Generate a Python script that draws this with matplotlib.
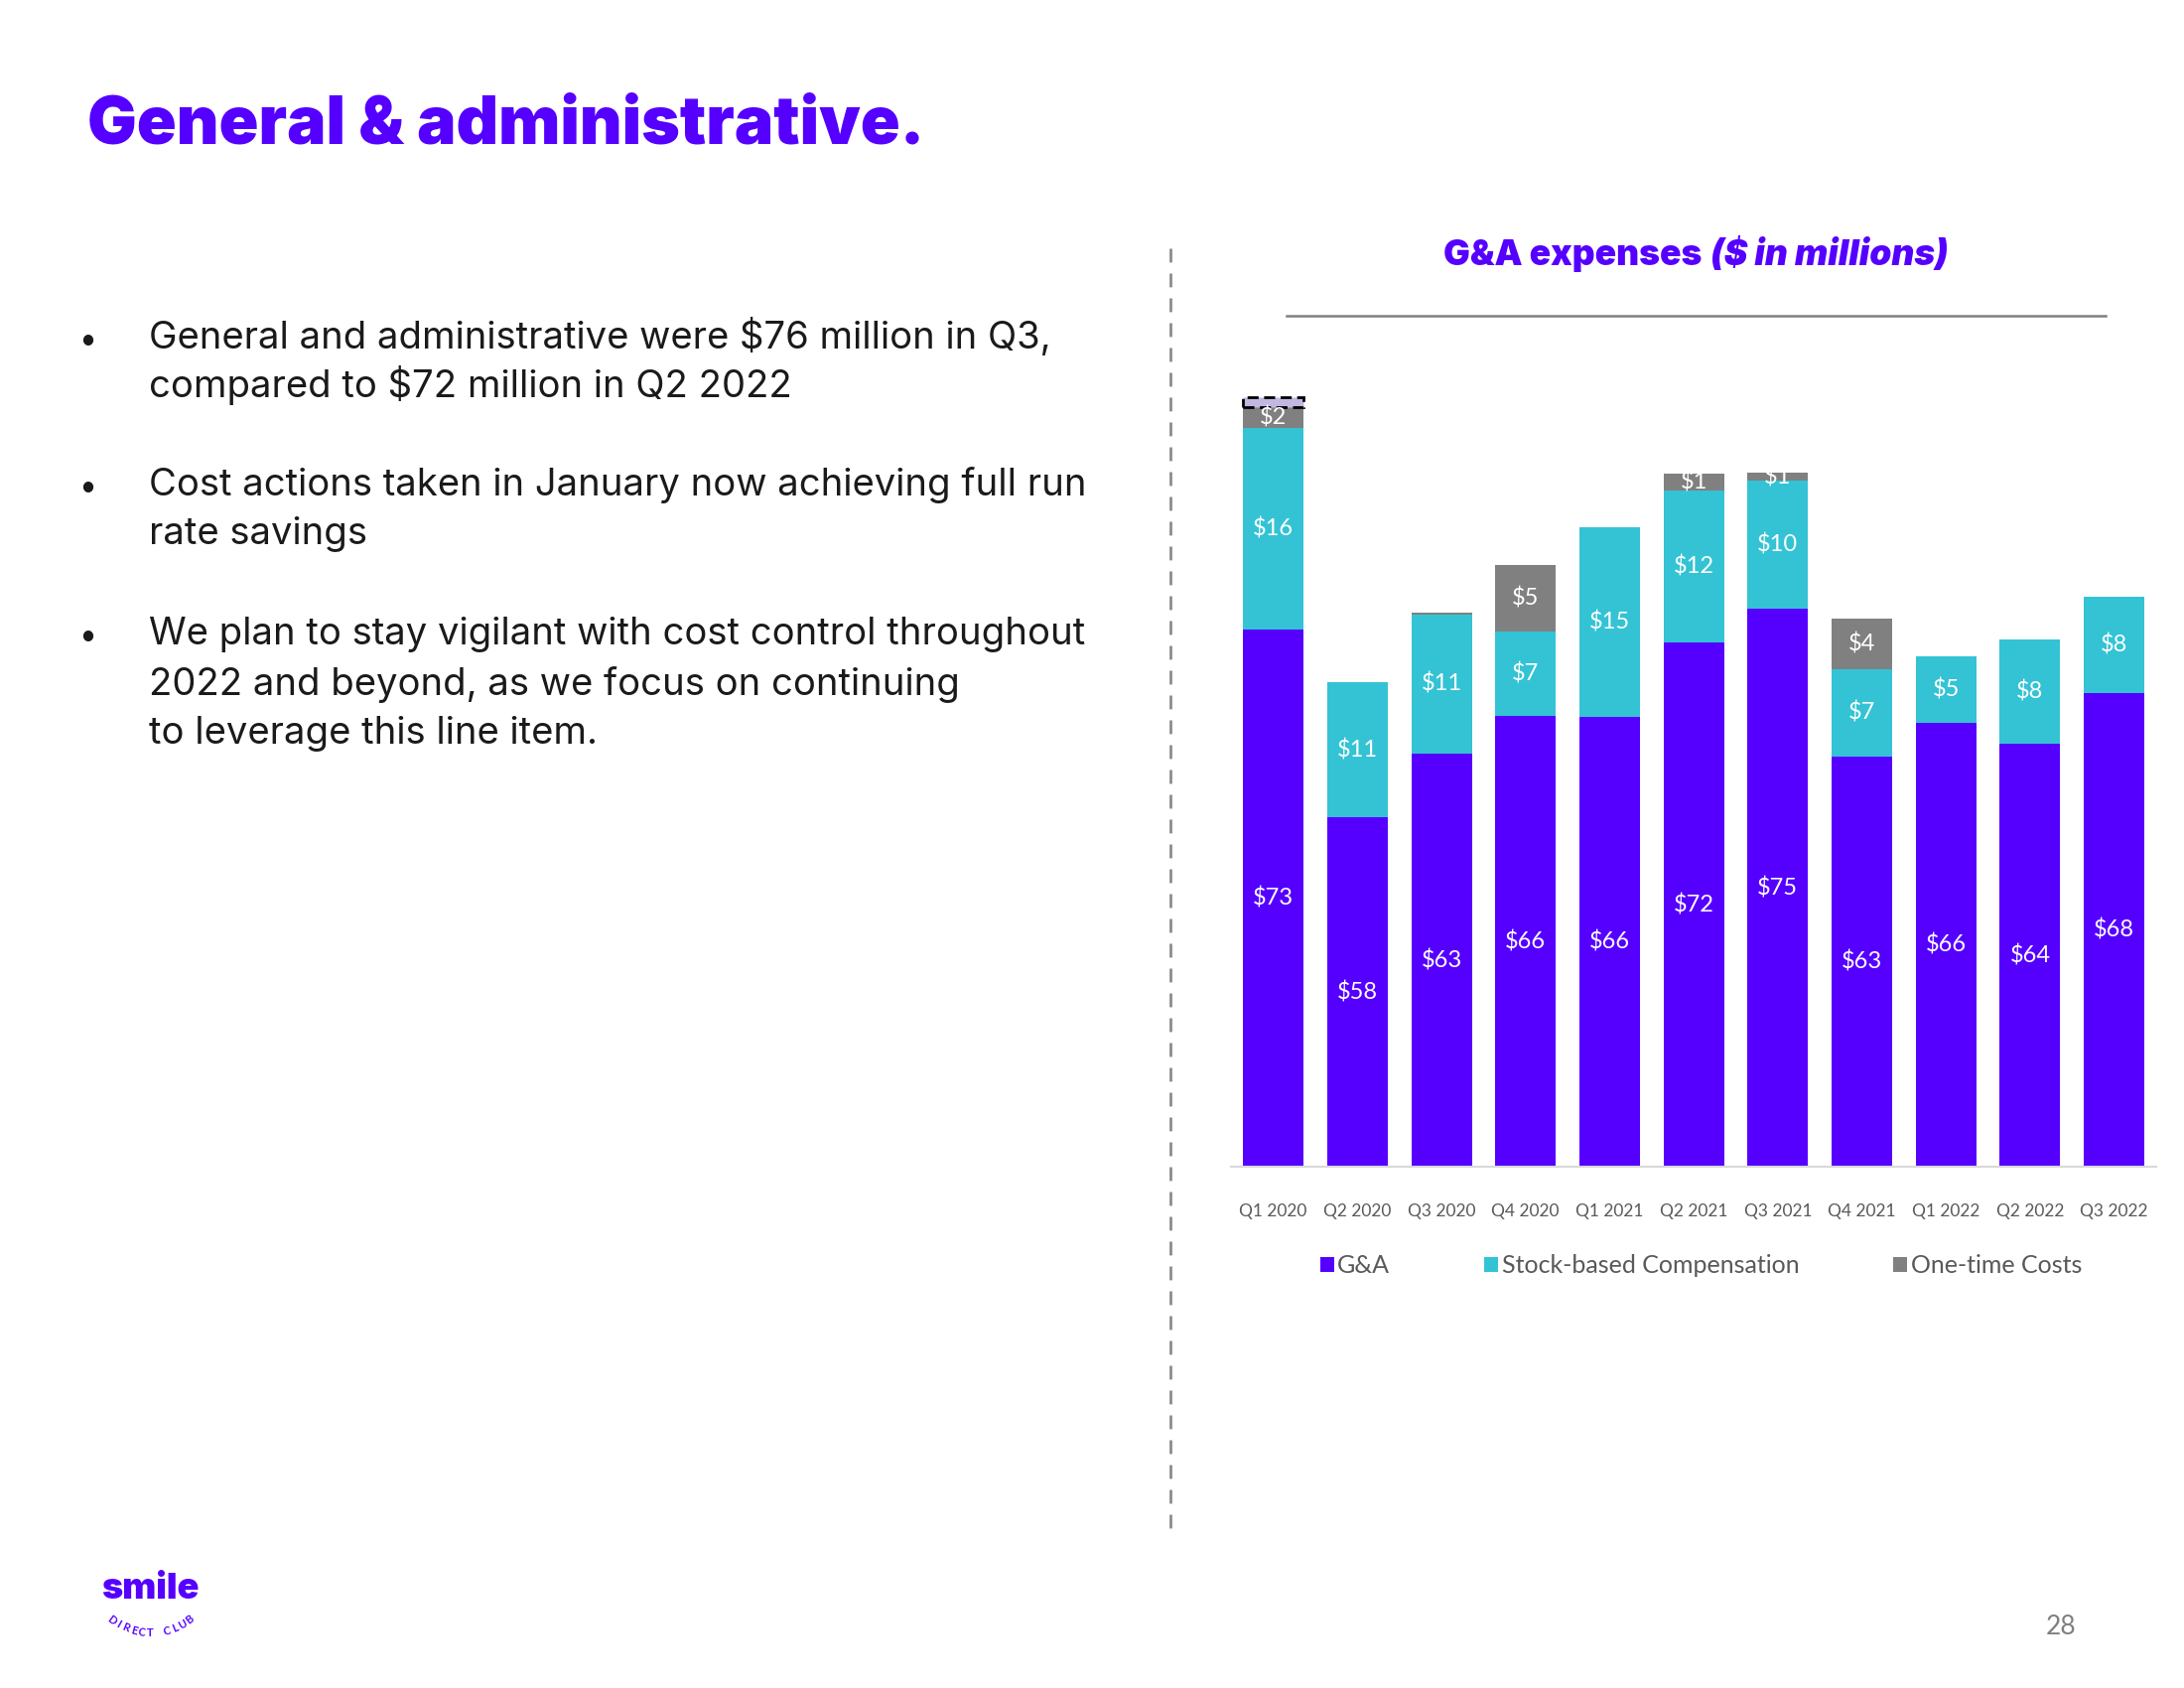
import numpy as np
import matplotlib
matplotlib.use("Agg")
import matplotlib.pyplot as plt
from matplotlib.lines import Line2D

# ---------------- data ----------------
quarters = ["Q1 2020", "Q2 2020", "Q3 2020", "Q4 2020", "Q1 2021", "Q2 2021",
            "Q3 2021", "Q4 2021", "Q1 2022", "Q2 2022", "Q3 2022"]
tick_labels = ["Q1 2020", "Q2 2020", "Q3 2020", "Q4 2020", "Q1 2021", "Q2 2021",
               "Q3 2021", "Q4 2021", "Q1 2022", "Q2 2022", "Q3 2022"]
ga = [73.26, 57.96, 63.17, 66.23, 66.12, 72.24, 74.96, 62.95, 65.67, 63.97, 68.05]
sbc = [16.45, 11.0, 11.3, 6.9, 15.45, 12.3, 10.45, 7.1, 5.45, 8.45, 7.9]
onetime = [1.7, 0.0, 0.15, 5.4, 0.0, 1.45, 0.6, 4.1, 0.0, 0.0, 0.0]
other = [0.8, 0, 0, 0, 0, 0, 0, 0, 0, 0, 0]
series_names = ["G&A", "Stock-based Compensation", "One-time Costs"]

bullets = [
    ["General and administrative were $76 million in Q3,",
     "compared to $72 million in Q2 2022"],
    ["Cost actions taken in January now achieving full run",
     "rate savings"],
    ["We plan to stay vigilant with cost control throughout",
     "2022 and beyond, as we focus on continuing",
     "to leverage this line item."],
]

# ---------------- style ----------------
PURPLE = "#5500FF"
TEAL = "#33C3D4"
GREY = "#808080"
LAV = "#C3B6E0"
TXT = "#1a1a1a"
GTXT = "#595959"
FONT = ["Lato", "DejaVu Sans"]
HEAD = ["Inter", "Lato", "DejaVu Sans"]
BODY = ["Inter", "Open Sans", "DejaVu Sans"]
plt.rcParams["font.family"] = FONT

W, H = 2200, 1700
fig = plt.figure(figsize=(22, 17), dpi=100)
fig.patch.set_facecolor("white")

S = 2200 / 1568.0  # small-to-full scale


def fx(x):
    return x / 1568.0


def fy(y):
    return 1 - y / 1212.0


# title
fig.text(fx(63), fy(103), "General & administrative.", color=PURPLE,
         fontsize=47.5, fontweight="black", ha="left", va="baseline",
         parse_math=False, family=HEAD)

# bullets
line_base = [[250, 285], [356, 391], [463, 499, 534]]
for lines, ys in zip(bullets, line_base):
    fig.text(fx(63), fy(ys[0]), "\u2022", color=TXT, fontsize=20,
             ha="center", va="baseline")
    for ln, yy in zip(lines, ys):
        fig.text(fx(107), fy(yy), ln, color=TXT, fontsize=27.5,
                 ha="left", va="baseline", parse_math=False, family=BODY)

# dashed separator
fig.add_artist(Line2D([fx(840), fx(840)], [fy(178), fy(1103)],
                      transform=fig.transFigure, color="#8c8c8c", lw=2,
                      linestyle=(0, (5, 4))))

# chart title
fig.text(fx(1222), fy(190), "G&A expenses", color=PURPLE, fontsize=25.5,
         fontweight="black", ha="right", va="baseline", parse_math=False,
         family=HEAD)
fig.text(fx(1228), fy(190), "($ in millions)", color=PURPLE, fontsize=25.5,
         fontweight="black", fontstyle="italic", ha="left", va="baseline",
         parse_math=False, family=HEAD)
fig.add_artist(Line2D([fx(924), fx(1512)], [fy(227), fy(227)],
                      transform=fig.transFigure, color="#7f7f7f", lw=1.8))

# ---------------- chart ----------------
ax = fig.add_axes([fx(884), fy(838), fx(1548) - fx(884), fy(250) - fy(838)])
ymin = 29.5
x = np.arange(len(quarters))
bw = 0.72
ga_a = np.array(ga)
sbc_a = np.array(sbc)
ot_a = np.array(onetime)
oth_a = np.array(other)

b1 = ax.bar(x, ga_a, bw, color=PURPLE, label=series_names[0], zorder=2)
b2 = ax.bar(x, sbc_a, bw, bottom=ga_a, color=TEAL, label=series_names[1], zorder=2)
b3 = ax.bar(x, ot_a, bw, bottom=ga_a + sbc_a, color=GREY, label=series_names[2], zorder=2)
for i, v in enumerate(oth_a):
    if v > 0:
        ax.bar(x[i], v, bw, bottom=ga_a[i] + sbc_a[i] + ot_a[i], color=LAV,
               edgecolor="black", linestyle=(0, (4, 2)), linewidth=2, zorder=3)

lab_fs = 17
for i in range(len(x)):
    ax.text(x[i], (ymin + ga_a[i]) / 2, f"${round(ga_a[i])}", color="white",
            ha="center", va="center", fontsize=lab_fs, parse_math=False, zorder=4)
    if sbc_a[i] >= 0.5:
        ax.text(x[i], ga_a[i] + sbc_a[i] / 2, f"${round(sbc_a[i])}", color="white",
                ha="center", va="center", fontsize=lab_fs, parse_math=False, zorder=4)
    if ot_a[i] >= 0.5:
        ax.text(x[i], ga_a[i] + sbc_a[i] + ot_a[i] / 2, f"${round(ot_a[i])}",
                color="white", ha="center", va="center", fontsize=lab_fs,
                parse_math=False, zorder=4)

ax.set_xlim(-0.5, len(x) - 0.5)
ax.set_ylim(ymin, ymin + 588 / 8.82)
for s in ["top", "right", "left"]:
    ax.spines[s].set_visible(False)
ax.spines["bottom"].set_color("#D9D9D9")
ax.spines["bottom"].set_linewidth(1.5)
ax.set_yticks([])
ax.set_xticks(x)
ax.set_xticklabels(tick_labels, fontsize=12.5, color=GTXT)
ax.tick_params(axis="x", length=0, pad=26)
ax.set_facecolor("none")

leg = ax.legend(handles=[b1, b2, b3], loc="center", ncol=3,
                bbox_to_anchor=(0.5 + 0.008, (fy(909) - fy(838)) / (fy(250) - fy(838))),
                frameon=False, fontsize=18, handlelength=0.55, handleheight=0.55,
                handletextpad=0.15, columnspacing=3.8, labelcolor=GTXT)

# page number
fig.text(fx(1480), fy(1168), "28", color="#7f7f7f", fontsize=19,
         ha="center", va="center")

# logo
fig.text(fx(108), fy(1141), "smile", color=PURPLE, fontsize=26,
         fontweight="black", ha="center", va="center", family=HEAD)
cx, cy = 108 * S, H - 1125.5 * S
r = 46.5 * S
word = "DIRECT CLUB"
angs = np.linspace(-127, -53, len(word))
for ch, a in zip(word, angs):
    px = cx + r * np.cos(np.radians(a))
    py = cy + r * np.sin(np.radians(a))
    fig.text(px / W, py / H, ch, color=PURPLE, fontsize=8, fontweight="bold",
             rotation=a + 90, ha="center", va="center",
             rotation_mode="anchor")

fig.savefig("out.png", dpi=100, facecolor="white")
